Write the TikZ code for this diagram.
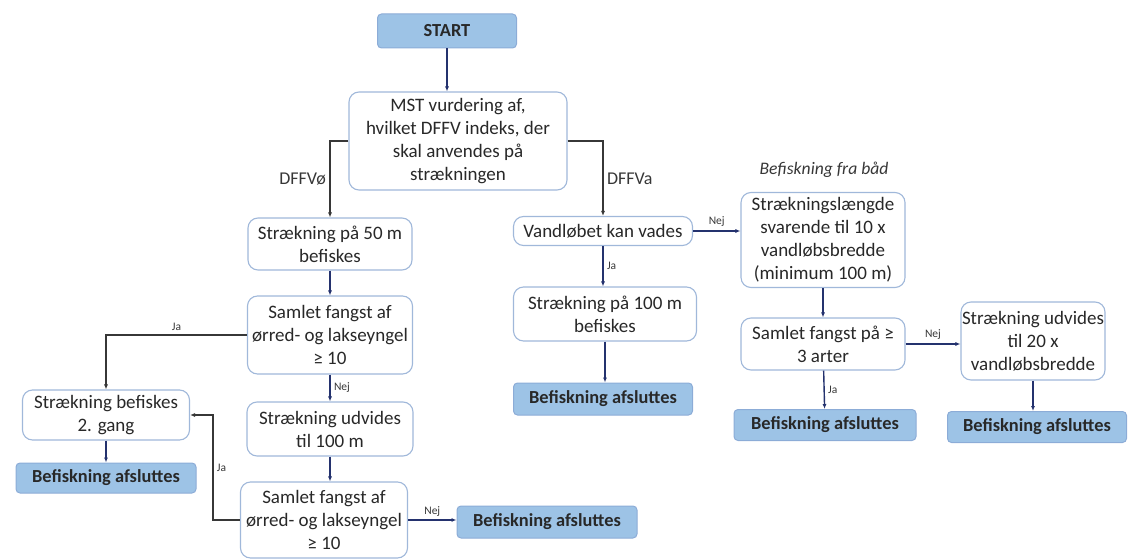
\documentclass[tikz,border=0pt]{standalone}
\usepackage{fontspec}
\setmainfont{Carlito}
\usetikzlibrary{arrows.meta}
\definecolor{boxline}{RGB}{160,184,218}
\definecolor{endfill}{RGB}{157,195,230}
\definecolor{endline}{RGB}{140,172,215}
\definecolor{navy}{RGB}{36,50,110}
\definecolor{darkline}{RGB}{55,55,55}
\definecolor{textgray}{RGB}{40,40,40}
\begin{document}
\begin{tikzpicture}[
                        x=1pt, y=-1pt,
                        >={Latex[length=5pt,width=4pt]},
                        box/.style={rectangle, rounded corners=10pt, draw=boxline, line width=1.1pt, fill=white, align=center, inner sep=1pt, text=textgray, font=\fontsize{19}{23}\selectfont},
                        endbox/.style={rectangle, rounded corners=4pt, draw=endline, fill=endfill, line width=1pt, inner sep=1pt, text=textgray, font=\bfseries\fontsize{18.4}{21}\selectfont},
                        flow/.style={->, draw=navy, line width=1.4pt},
                        branch/.style={->, draw=darkline, line width=1.4pt},
                        tag/.style={font=\fontsize{11.5}{13}\selectfont, text=darkline},
                        side/.style={font=\fontsize{18}{21}\selectfont, text=darkline}
                    ]
                    \useasboundingbox (0,0) rectangle (1129,559);
                    % Blocks
                    \node [endbox, minimum width=139, minimum height=34] (start) at (447,31) {START};
                    \node [box, minimum width=218, minimum height=98] (mst) at (458,141) {MST vurdering af,\\hvilket DFFV indeks, der\\skal anvendes på\\strækningen};
                    % DFFVø branch
                    \node [box, minimum width=164, minimum height=52] (s50) at (330,244) {Strækning på 50 m\\befiskes};
                    \node [box, minimum width=165, minimum height=78] (samlet1) at (330,335) {Samlet fangst af\\ørred- og lakseyngel\\≥ 10};
                    \node [box, minimum width=167, minimum height=50] (gang2) at (106,415) {Strækning befiskes\\2. gang};
                    \node [endbox, minimum width=180, minimum height=30] (end1) at (106,478) {Befiskning afsluttes};
                    \node [box, minimum width=166, minimum height=54] (udv100) at (330,429) {Strækning udvides\\til 100 m};
                    \node [box, minimum width=167, minimum height=76] (samlet2) at (324,520) {Samlet fangst af\\ørred- og lakseyngel\\≥ 10};
                    \node [endbox, minimum width=180, minimum height=32] (end5) at (547,522) {Befiskning afsluttes};
                    % DFFVa branch
                    \node [box, minimum width=179, minimum height=29] (vand) at (603,231) {Vandløbet kan vades};
                    \node [box, minimum width=183, minimum height=54] (s100) at (605,314) {Strækning på 100 m\\befiskes};
                    \node [endbox, minimum width=179, minimum height=32] (end2) at (603,399) {Befiskning afsluttes};
                    \node [side, font=\itshape\fontsize{17.6}{21}\selectfont] (baad) at (824,170) {Befiskning fra båd};
                    \node [box, minimum width=164, minimum height=95] (str10) at (823,240) {Strækningslængde\\svarende til 10 x\\vandløbsbredde\\(minimum 100 m)};
                    \node [box, minimum width=164, minimum height=52] (samlet3) at (823,344) {Samlet fangst på ≥\\3 arter};
                    \node [box, minimum width=143, minimum height=78] (udv20) at (1033,341) {Strækning udvides\\til 20 x\\vandløbsbredde};
                    \node [endbox, minimum width=182, minimum height=31] (end3) at (825,425) {Befiskning afsluttes};
                    \node [endbox, minimum width=179, minimum height=31] (end4) at (1037,427) {Befiskning afsluttes};

                    % Connections
                    \draw [flow] (start) -- (start |- mst.north);
                    \draw [branch] (mst.west) -| (s50.north) node[pos=0.75, left, side]{DFFVø};
                    \draw [branch] (mst.east) -| (vand.north) node[pos=0.75, right, side]{DFFVa};
                    \draw [flow] (s50) -- (samlet1);
                    \draw [branch] (samlet1.west) -| (gang2.north) node[pos=0.25, above, tag]{Ja};
                    \draw [flow] (gang2) -- (end1);
                    \draw [flow] (samlet1) -- (udv100) node[midway, right, tag]{Nej};
                    \draw [flow] (udv100) -- (udv100 |- samlet2.north);
                    \draw [branch] (samlet2.west) -- ++(-27,0) |- (gang2.east) node[pos=0.25, right, tag]{Ja};
                    \draw [flow] (samlet2.east) -- (end5.west |- samlet2.east) node[midway, above, tag]{Nej};
                    \draw [flow] (vand.east) -- (vand.east -| str10.west) node[midway, above, tag]{Nej};
                    \draw [flow] (vand) -- (vand |- s100.north) node[midway, right, tag]{Ja};
                    \draw [flow] (s100) -- (s100 |- end2.north);
                    \draw [flow] (str10) -- (samlet3);
                    \draw [flow] (samlet3.east) -- (samlet3.east -| udv20.west) node[midway, above, tag]{Nej};
                    \draw [flow] (samlet3) -- (end3) node[midway, right, tag]{Ja};
                    \draw [flow] (udv20) -- (udv20 |- end4.north);
                \end{tikzpicture}
\end{document}
